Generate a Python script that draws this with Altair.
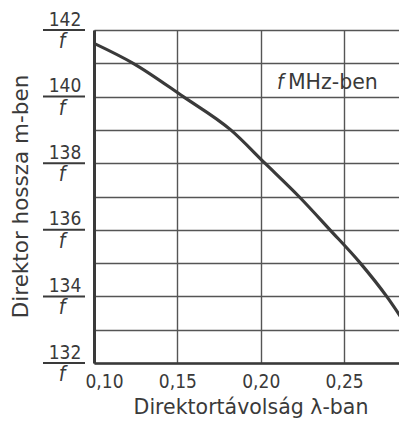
import altair as alt
import pandas as pd

# Curve: director spacing (in wavelengths) vs. director length (x/f m)
dist = [0.100, 0.1235, 0.1535, 0.1820, 0.2025, 0.2229, 0.2415, 0.2597, 0.2755, 0.2877]
length = [141.6, 141.0, 140.0, 139.0, 138.0, 137.0, 136.0, 135.0, 134.0, 133.1]

x_ticks = [0.10, 0.15, 0.20, 0.25]
y_grid = [132, 133, 134, 135, 136, 137, 138, 139, 140, 141, 142]
y_labels = [132, 134, 136, 138, 140, 142]
y_num = ["132", "134", "136", "138", "140", "142"]
y_den = ["f", "f", "f", "f", "f", "f"]

ann_x = [0.2097]
ann_x2 = [0.2163]
ann_y = [140.4]

NUMF = "DejaVu Sans Condensed, sans-serif"
TXTF = "DejaVu Sans, sans-serif"
INK = "#3a3a3a"

curve_df = pd.DataFrame({"d": dist, "L": length})
lab_df = pd.DataFrame({"v": y_labels, "num": y_num, "den": y_den})
ann_df = pd.DataFrame({"x": ann_x, "x2": ann_x2, "y": ann_y})

xs = alt.Scale(domain=[0.10, 0.2877], nice=False, zero=False)
ys = alt.Scale(domain=[132, 142], nice=False, zero=False)

xaxis = alt.Axis(
    values=x_ticks,
    labelExpr="replace(format(datum.value, '.2f'), '.', ',')",
    title="Direktortávolság λ-ban",
    titleFont=TXTF, titleFontSize=20.5, titleFontWeight="normal", titleColor=INK,
    titleY=50, titleBaseline="alphabetic",
    labelFont=NUMF, labelFontSize=19, labelColor=INK, labelPadding=9,
    labelFlush=True, labelFlushOffset=9,
    ticks=False, grid=True, gridColor="#555", gridWidth=1.4,
    domainColor=INK, domainWidth=2.5,
)
yaxis = alt.Axis(
    values=y_grid, labels=False, ticks=False,
    title="Direktor hossza m-ben",
    titleFont=TXTF, titleFontSize=21.5, titleFontWeight="normal", titleColor=INK,
    titleX=-73, titleY=166, titleAlign="center", titleBaseline="middle",
    titleAngle=270,
    grid=True, gridColor="#555", gridWidth=1.4,
    domainColor=INK, domainWidth=3,
)

curve = alt.Chart(curve_df).mark_line(
    color=INK, strokeWidth=3.2, interpolate="monotone", clip=True
).encode(
    x=alt.X("d:Q", scale=xs, axis=xaxis),
    y=alt.Y("L:Q", scale=ys, axis=yaxis),
)

num = alt.Chart(lab_df).mark_text(
    font=NUMF, fontSize=19, color=INK, align="center", baseline="alphabetic", dy=-4.5
).encode(x=alt.value(-29), y=alt.Y("v:Q", scale=ys, axis=yaxis), text="num:N")

bars = alt.Chart(lab_df).mark_rule(color=INK, strokeWidth=2).encode(
    x=alt.value(-51), x2=alt.value(-9), y=alt.Y("v:Q", scale=ys, axis=yaxis)
)

den = alt.Chart(lab_df).mark_text(
    font=NUMF, fontSize=21, fontStyle="italic", color=INK, align="center",
    baseline="top", dy=1
).encode(x=alt.value(-32), y=alt.Y("v:Q", scale=ys, axis=yaxis), text="den:N")

ann_f = alt.Chart(ann_df).mark_text(
    font=NUMF, fontSize=21, fontStyle="italic", color=INK, align="left", baseline="middle"
).encode(x=alt.X("x:Q", scale=xs, axis=xaxis), y=alt.Y("y:Q", scale=ys, axis=yaxis),
         text=alt.value("f"))

ann_t = alt.Chart(ann_df).mark_text(
    font=TXTF, fontSize=20.5, color=INK, align="left", baseline="middle"
).encode(x=alt.X("x2:Q", scale=xs, axis=xaxis), y=alt.Y("y:Q", scale=ys, axis=yaxis),
         text=alt.value("MHz-ben"))

chart = alt.layer(curve, bars, num, den, ann_f, ann_t).properties(
    width=313, height=333,
    autosize=alt.AutoSizeParams(type="none"),
    padding={"left": 86, "top": 22, "right": -8, "bottom": 56},
    background="white",
).configure_view(stroke="transparent")

chart.save("out.html", embed_options={"renderer": "svg", "actions": False})
